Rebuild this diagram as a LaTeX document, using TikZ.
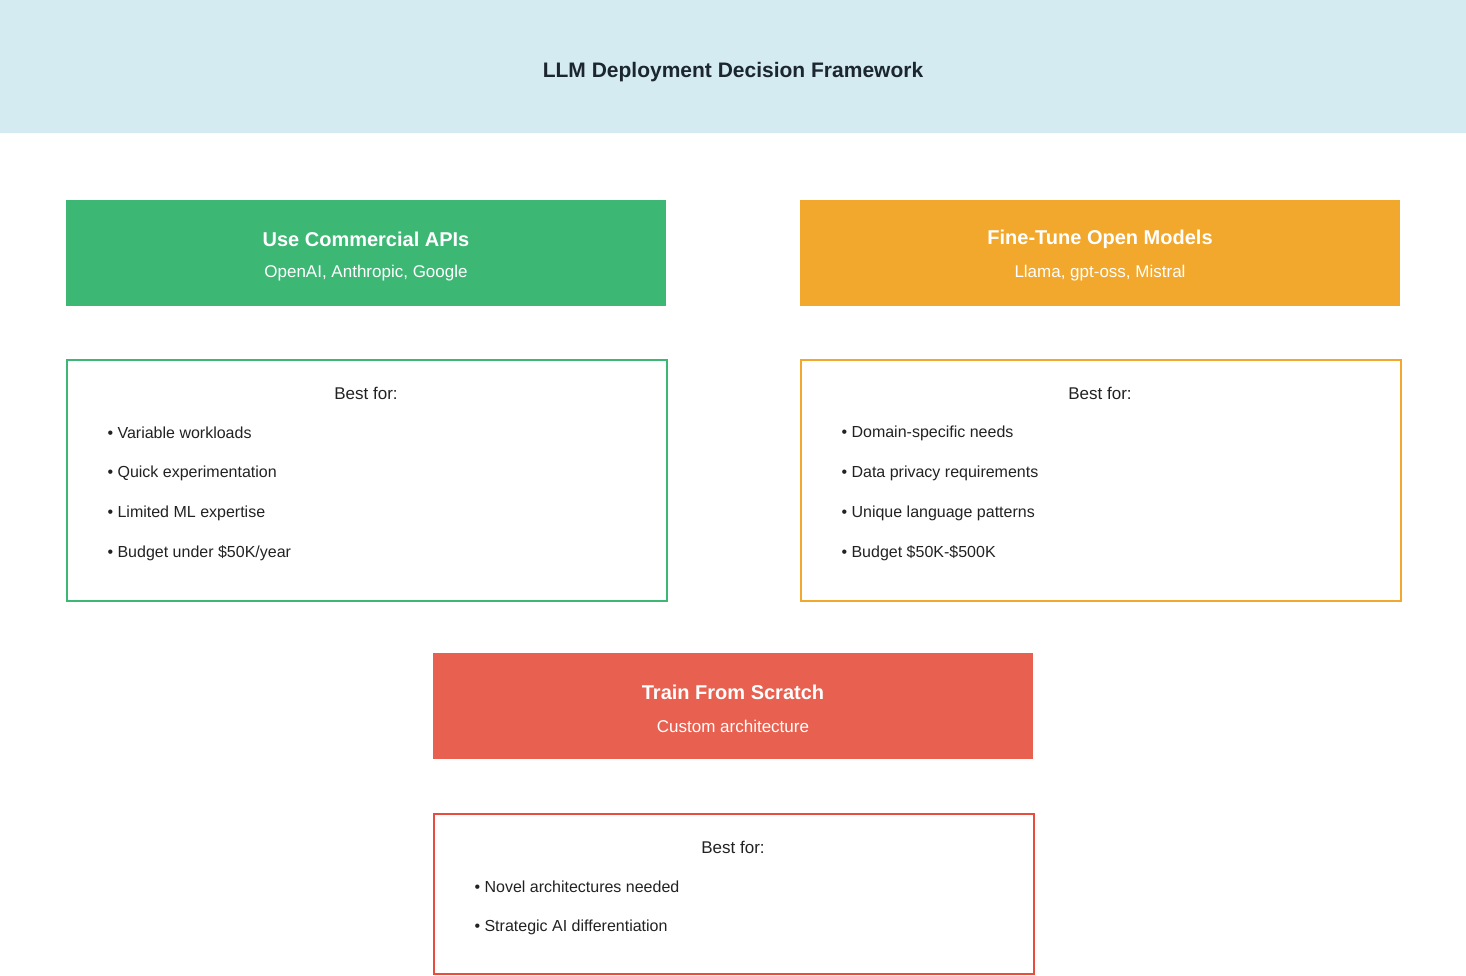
\documentclass[tikz,border=0pt]{standalone}
\usepackage{fontspec}
\setmainfont{Liberation Sans}
\usetikzlibrary{positioning}
\definecolor{headbg}{HTML}{D5EBF2}
\definecolor{titlecol}{HTML}{1B2631}
\definecolor{apigreen}{HTML}{3CB774}
\definecolor{tuneorange}{HTML}{F2A82C}
\definecolor{trainred}{HTML}{E8604F}
\definecolor{redline}{HTML}{E74C3C}
\definecolor{textcol}{HTML}{222222}
\tikzset{
  option/.style={fill=#1,minimum width=600pt,minimum height=106pt,inner sep=0pt},
  detail/.style={draw=#1,line width=2pt,minimum width=600pt,inner sep=0pt},
  head/.style={text=white,font=\fontsize{20}{24}\selectfont\bfseries},
  sub/.style={text=white,font=\fontsize{17}{20}\selectfont},
  best/.style={text=textcol,font=\fontsize{17}{20}\selectfont},
  item/.style={text=textcol,font=\fontsize{16}{20}\selectfont,anchor=west}
}
\begin{document}
\begin{tikzpicture}[x=1pt,y=-1pt]
  \useasboundingbox (0,0) rectangle (1466,975);
  \fill[headbg] (0,0) rectangle (1466,133);
  \node[text=titlecol,font=\fontsize{21}{25}\selectfont\bfseries] (title) at (733,72) {LLM Deployment Decision Framework};

  % commercial APIs
  \node[option=apigreen,anchor=north west] (api) at (66,200) {};
  \node[head] (apiname) at (366,239) {Use Commercial APIs};
  \node[sub] (apisub) at (366,273) {OpenAI, Anthropic, Google};
  \node[detail=apigreen,minimum height=241pt,anchor=north west] (apibox) at (66,359) {};
  \node[best] (apibest) at (366,393) {Best for:};
  \node[item] (api1) at (104,433) {• Variable workloads};
  \node[item] (api2) at (104,473) {• Quick experimentation};
  \node[item] (api3) at (104,513) {• Limited ML expertise};
  \node[item] (api4) at (104,553) {• Budget under \$50K/year};

  % fine-tune
  \node[option=tuneorange,anchor=north west] (tune) at (800,200) {};
  \node[head] (tunename) at (1100,239) {Fine-Tune Open Models};
  \node[sub] (tunesub) at (1100,273) {Llama, gpt-oss, Mistral};
  \node[detail=tuneorange,minimum height=241pt,anchor=north west] (tunebox) at (800,359) {};
  \node[best] (tunebest) at (1100,393) {Best for:};
  \node[item] (tune1) at (838,433) {• Domain-specific needs};
  \node[item] (tune2) at (838,473) {• Data privacy requirements};
  \node[item] (tune3) at (838,513) {• Unique language patterns};
  \node[item] (tune4) at (838,553) {• Budget \$50K-\$500K};

  % train from scratch
  \node[option=trainred,anchor=north west] (train) at (433,653) {};
  \node[head] (trainname) at (733,692) {Train From Scratch};
  \node[sub] (trainsub) at (733,726) {Custom architecture};
  \node[detail=redline,minimum height=160pt,anchor=north west] (trainbox) at (433,813) {};
  \node[best] (trainbest) at (733,847) {Best for:};
  \node[item] (train1) at (471,887) {• Novel architectures needed};
  \node[item] (train2) at (471,927) {• Strategic AI differentiation};
\end{tikzpicture}
\end{document}
